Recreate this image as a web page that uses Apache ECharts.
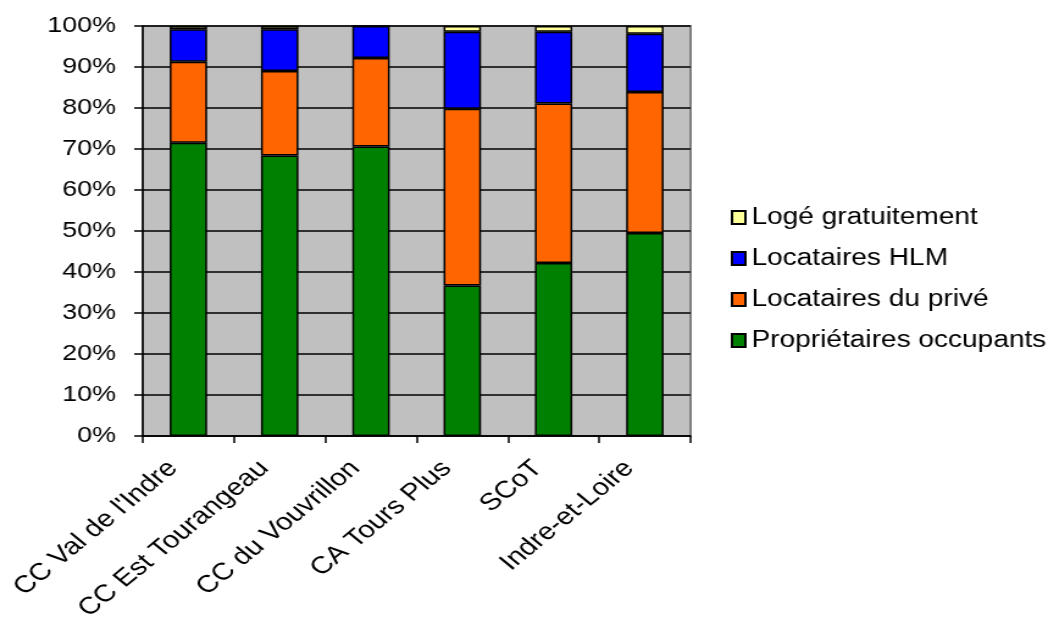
<!DOCTYPE html>
<html>
<head>
<meta charset="utf-8">
<script src="https://cdn.jsdelivr.net/npm/echarts@6/dist/echarts.min.js"></script>
<style>
  html, body { margin: 0; padding: 0; background: #fff; overflow: hidden; }
  /* the chart is laid out narrower and widened horizontally, like a stretched spreadsheet chart */
  #chart { width: 868px; height: 621px; transform-origin: 0 0; transform: scaleX(1.22); }
</style>
</head>
<body>
<div id="chart"></div>
<script>
// Territories compared
const categories = ['CC Val de l\'Indre', 'CC Est Tourangeau', 'CC du Vouvrillon', 'CA Tours Plus', 'SCoT', 'Indre-et-Loire'];

// Share of households by occupancy status (%)
const proprietaires = [71.5, 68.4, 70.6, 36.7, 42.2, 49.5];
const locatairesPrive = [19.8, 20.6, 21.6, 43.1, 38.9, 34.4];
const locatairesHLM = [7.9, 10.2, 7.8, 18.8, 17.5, 14.2];
const logeGratuit = [0.8, 0.8, 0.0, 1.4, 1.4, 1.9];

const yTicks = [0, 10, 20, 30, 40, 50, 60, 70, 80, 90, 100];

const font = 'Liberation Sans, Arial, sans-serif';

function bar(name, data, color) {
  return {
    name: name,
    type: 'bar',
    stack: 'total',
    data: data,
    barCategoryGap: '59%',
    itemStyle: { color: color, borderColor: '#000', borderWidth: 1.5 },
    emphasis: { disabled: true }
  };
}

const chart = echarts.init(document.getElementById('chart'), null, { renderer: 'canvas' });
chart.setOption({
  animation: false,
  backgroundColor: '#fff',
  textStyle: { fontFamily: font },
  grid: {
    left: 117, right: 302, top: 26, bottom: 185,
    containLabel: false, outerBoundsMode: 'none',
    show: true, backgroundColor: '#C0C0C0', borderColor: '#808080', borderWidth: 2
  },
  legend: {
    orient: 'vertical',
    left: 599, top: 206,
    padding: 0,
    itemWidth: 11, itemHeight: 13, itemGap: 18,
    icon: 'rect',
    textStyle: { fontFamily: font, fontSize: 23, lineHeight: 23, color: '#000', padding: 0 },
    data: ['Logé gratuitement', 'Locataires HLM', 'Locataires du privé', 'Propriétaires occupants']
  },
  xAxis: {
    type: 'category',
    data: categories,
    axisLine: { show: true, lineStyle: { color: '#000', width: 1.5 } },
    axisTick: { show: true, alignWithLabel: false, length: 7, lineStyle: { color: '#000', width: 1.5 } },
    axisLabel: {
      rotate: 45, margin: 16, fontSize: 24, color: '#000', fontFamily: font, interval: 0,
      padding: [0, 18, 0, 0]
    },
    splitLine: { show: false }
  },
  yAxis: {
    type: 'value',
    min: 0, max: 100, interval: 10,
    axisLine: { show: true, lineStyle: { color: '#000', width: 1.5 } },
    axisTick: { show: true, inside: false, length: 7, lineStyle: { color: '#000', width: 1.5 } },
    axisLabel: {
      fontSize: 22, color: '#000', fontFamily: font, margin: 22,
      formatter: v => yTicks.includes(v) ? v + '%' : ''
    },
    splitLine: { show: true, lineStyle: { color: '#000', width: 1.5 } }
  },
  series: [
    bar('Propriétaires occupants', proprietaires, '#008000'),
    bar('Locataires du privé', locatairesPrive, '#FF6600'),
    bar('Locataires HLM', locatairesHLM, '#0000FF'),
    bar('Logé gratuitement', logeGratuit, '#FFFF99')
  ]
});
</script>
</body>
</html>
